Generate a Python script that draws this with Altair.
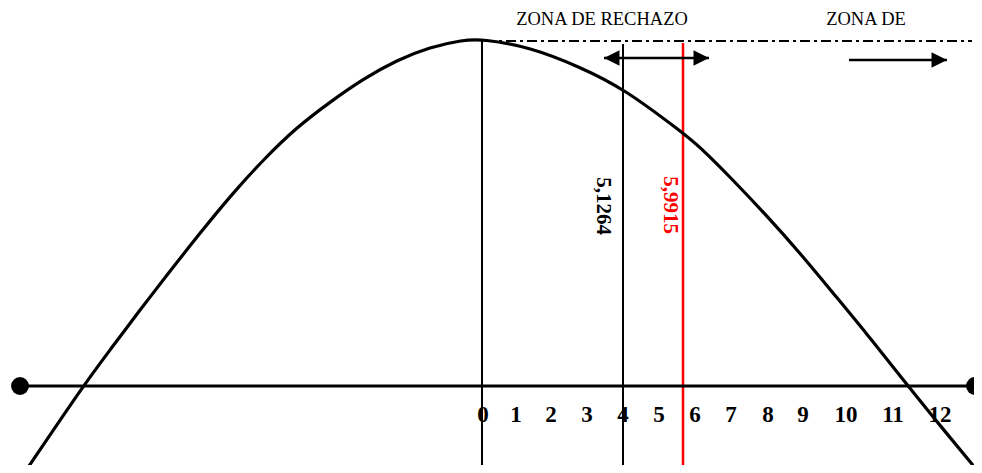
import altair as alt
import pandas as pd

# Diagram coordinates (schematic drawing units, y grows downward)
curve_x = [25, 83, 110, 140, 167, 200, 233, 263, 297, 330, 363, 397, 430, 463, 482,
           530, 580, 623, 683, 700, 733, 767, 800, 833, 867, 900, 933, 977]
curve_y = [472, 386, 350, 310, 275, 233, 193, 160, 127, 102, 79, 60, 47, 40, 39,
           47, 67, 88, 133, 147, 180, 216, 253, 293, 334, 376, 417, 470]

tick_labels = ["0", "1", "2", "3", "4", "5", "6", "7", "8", "9", "10", "11", "12"]
tick_pos = [483, 516, 551, 587, 623, 659, 695, 731, 768, 803, 846, 893, 940]
tick_baseline = 422

axis_level = 386
axis_ends = [20, 975]

vline_x = [482, 623, 683]
vline_top = [40, 44, 43]
vline_bottom = [473, 473, 473]
vline_color = ["black", "black", "red"]
vline_width = [2, 2, 2.5]

dash_level = 41
dash_start, dash_end = 485, 972

arrow_shafts_x = [604, 849]
arrow_shafts_x2 = [709, 947]
arrow_shafts_y = [58, 60]
head_x = [604, 709, 947]
head_y = [58, 58, 60]
head_dir = ["left", "right", "right"]

crit_labels = ["5,1264", "5,9915"]
crit_x = [603, 670]
crit_y = [206, 205]
crit_color = ["black", "red"]

zone_labels = ["ZONA DE RECHAZO", "ZONA DE"]
zone_x = [602, 866]
zone_y = [25, 25]

XS = alt.Scale(domain=[8, 974], nice=False, zero=False)
YS = alt.Scale(domain=[8, 465], nice=False, zero=False, reverse=True)
SERIF = "Liberation Serif"


def X(f):
    return alt.X(f"{f}:Q", scale=XS, axis=None)


def Y(f):
    return alt.Y(f"{f}:Q", scale=YS, axis=None)


curve_df = pd.DataFrame({"x": curve_x, "y": curve_y, "i": range(len(curve_x))})
curve = alt.Chart(curve_df).mark_line(
    color="black", strokeWidth=3.2, interpolate="basis", clip=True
).encode(x=X("x"), y=Y("y"), order="i:Q")

axis_df = pd.DataFrame({"x": [axis_ends[0]], "x2": [axis_ends[1]], "y": [axis_level]})
axis_line = alt.Chart(axis_df).mark_rule(color="black", strokeWidth=3, clip=True).encode(
    x=X("x"), x2="x2:Q", y=Y("y")
)

dots_df = pd.DataFrame({"x": axis_ends, "y": [axis_level, axis_level]})
dots = alt.Chart(dots_df).mark_circle(color="black", size=320, opacity=1, clip=True).encode(
    x=X("x"), y=Y("y")
)

vl_df = pd.DataFrame({"x": vline_x, "y": vline_top, "y2": vline_bottom,
                      "c": vline_color, "w": vline_width})
vlines = alt.Chart(vl_df).mark_rule(clip=True).encode(
    x=X("x"), y=Y("y"), y2="y2:Q",
    color=alt.Color("c:N", scale=None),
    strokeWidth=alt.StrokeWidth("w:Q", scale=None),
)

dash_df = pd.DataFrame({"x": [dash_start], "x2": [dash_end], "y": [dash_level]})
dash = alt.Chart(dash_df).mark_rule(
    color="black", strokeWidth=2, strokeDash=[10, 4, 3, 4], clip=True
).encode(x=X("x"), x2="x2:Q", y=Y("y"))

shaft_df = pd.DataFrame({"x": arrow_shafts_x, "x2": arrow_shafts_x2, "y": arrow_shafts_y})
shafts = alt.Chart(shaft_df).mark_rule(color="black", strokeWidth=2.5).encode(
    x=X("x"), x2="x2:Q", y=Y("y")
)

heads_df = pd.DataFrame({"x": head_x, "y": head_y, "d": head_dir})
heads_r = alt.Chart(heads_df[heads_df.d == "right"]).mark_point(
    shape="M-2,-1L0,0L-2,1Z", filled=True, color="black", size=240, opacity=1
).encode(x=X("x"), y=Y("y"))
heads_l = alt.Chart(heads_df[heads_df.d == "left"]).mark_point(
    shape="M2,-1L0,0L2,1Z", filled=True, color="black", size=240, opacity=1
).encode(x=X("x"), y=Y("y"))

ticks_df = pd.DataFrame({"x": tick_pos, "y": [tick_baseline] * len(tick_pos), "t": tick_labels})
ticks = alt.Chart(ticks_df).mark_text(
    font=SERIF, fontSize=23, fontWeight="bold", color="black",
    align="center", baseline="alphabetic"
).encode(x=X("x"), y=Y("y"), text="t:N")

crit_df = pd.DataFrame({"x": crit_x, "y": crit_y, "t": crit_labels, "c": crit_color})
crit = alt.Chart(crit_df).mark_text(
    font=SERIF, fontSize=21, fontWeight="bold", angle=90,
    align="center", baseline="middle"
).encode(x=X("x"), y=Y("y"), text="t:N", color=alt.Color("c:N", scale=None))

zone_df = pd.DataFrame({"x": zone_x, "y": zone_y, "t": zone_labels})
zones = alt.Chart(zone_df).mark_text(
    font=SERIF, fontSize=18.5, color="black", align="center", baseline="alphabetic"
).encode(x=X("x"), y=Y("y"), text="t:N")

chart = alt.layer(
    vlines, dash, axis_line, curve, dots, shafts, heads_r, heads_l, ticks, crit, zones
).properties(
    width=966, height=457, padding=0, background="white",
    autosize=alt.AutoSizeParams(type="none")
).configure_view(stroke=None, strokeWidth=0)

chart.save("out.html", embed_options={"renderer": "svg", "actions": False})
